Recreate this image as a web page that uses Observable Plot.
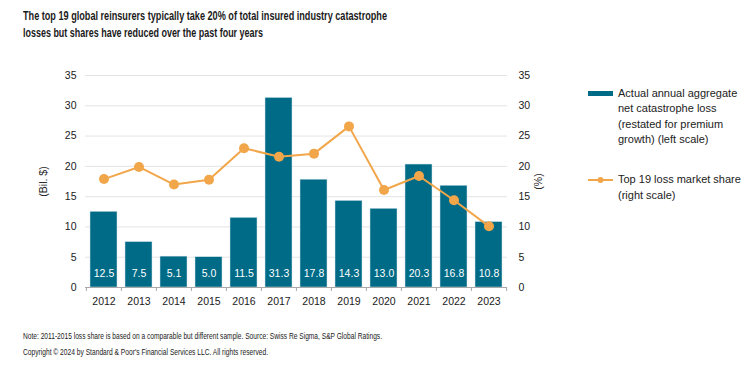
<!DOCTYPE html>
<html><head><meta charset="utf-8">
<script src="https://cdn.jsdelivr.net/npm/d3@7"></script>
<script src="https://cdn.jsdelivr.net/npm/@observablehq/plot@0.6"></script>
<style>
body{margin:0;background:#fff;font-family:"Liberation Sans",Arial,sans-serif;color:#1a1a1a}
#wrap{position:relative;width:754px;height:370px;overflow:hidden}
.abs{position:absolute;white-space:nowrap}
.fit{display:inline-block;transform-origin:0 50%}
#title{left:23px;top:7px;font-family:"Liberation Sans Narrow","Liberation Sans",sans-serif;font-weight:bold;font-size:13px;line-height:17px}
#foot{left:23px;top:328px;font-family:"Liberation Sans Narrow","Liberation Sans",sans-serif;font-size:9px;line-height:16px}
#chart{left:0;top:60px}
.leg{font-size:11px;line-height:15.5px;color:#222}
</style></head>
<body><div id="wrap">
<div id="title" class="abs"><span class="fit" data-w="364">The top 19 global reinsurers typically take 20% of total insured industry catastrophe</span><br><span class="fit" data-w="240">losses but shares have reduced over the past four years</span></div>
<div id="chart" class="abs"></div>
<div class="abs" style="left:588px;top:91px;width:25px;height:5px;background:#006b87"></div>
<div class="abs leg" style="left:618px;top:85.6px">Actual annual aggregate<br>net catastrophe loss<br>(restated for premium<br>growth) (left scale)</div>
<svg class="abs" style="left:586px;top:175px" width="30" height="10"><line x1="2" y1="5" x2="27" y2="5" stroke="#f2a64a" stroke-width="2"/><circle cx="14.5" cy="5" r="3" fill="#f2a64a"/></svg>
<div class="abs leg" style="left:618px;top:172px">Top 19 loss market share<br>(right scale)</div>
<div id="foot" class="abs"><span class="fit" data-w="359">Note: 2011-2015 loss share is based on a comparable but different sample. Source: Swiss Re Sigma, S&amp;P Global Ratings.</span><br><span class="fit" data-w="245">Copyright © 2024 by Standard &amp; Poor's Financial Services LLC. All rights reserved.</span></div>
</div>
<script>
const years = ["2012","2013","2014","2015","2016","2017","2018","2019","2020","2021","2022","2023"];
const losses = [12.5, 7.5, 5.1, 5.0, 11.5, 31.3, 17.8, 14.3, 13.0, 20.3, 16.8, 10.8];
const shares = [17.9, 19.9, 17.0, 17.8, 23.0, 21.6, 22.1, 26.6, 16.1, 18.4, 14.4, 10.1];
const yTicks = [0, 5, 10, 15, 20, 25, 30, 35];

const data = years.map((year, i) => ({year, loss: losses[i], share: shares[i]}));

const W = 754, H = 250, ML = 85, MR = 247, MT = 15, MB = 23;
const step = (W - ML - MR) / years.length;
const barColor = "#006b87", lineColor = "#f2a64a";

const chart = Plot.plot({
  width: W, height: H,
  marginLeft: ML, marginRight: MR, marginTop: MT, marginBottom: MB,
  style: {fontFamily: "'Liberation Sans', Arial, sans-serif", fontSize: "10.5px", color: "#1a1a1a"},
  x: {type: "band", domain: years, paddingInner: 0.24, paddingOuter: 0.12},
  y: {domain: [0, 35]},
  marks: [
    Plot.ruleY(yTicks.filter(t => t > 0), {stroke: "#e4e4e4", strokeWidth: 1}),
    Plot.barY(data, {x: "year", y: "loss", fill: barColor, stroke: "#d3e4ea", strokeWidth: 0.5}),
    Plot.ruleY([0], {stroke: "#a8a8a8"}),
    Plot.ruleX(years, {x: d => d, y1: 0, y2: 0, insetBottom: -4, dx: -step / 2, stroke: "#a8a8a8"}),
    Plot.ruleX(years.slice(-1), {x: d => d, y1: 0, y2: 0, insetBottom: -4, dx: step / 2, stroke: "#a8a8a8"}),
    Plot.line(data, {x: "year", y: "share", stroke: lineColor, strokeWidth: 2}),
    Plot.dot(data, {x: "year", y: "share", r: 5, fill: lineColor}),
    Plot.text(data, {x: "year", y: 0, text: d => d.loss.toFixed(1), dy: -14, fill: "white", fontSize: 10.5}),
    Plot.axisY({anchor: "left", ticks: yTicks, tickSize: 0, tickPadding: 9, label: "(Bil. $)", labelAnchor: "center", labelOffset: 46, labelArrow: "none", fontSize: 10.5}),
    Plot.axisY({anchor: "right", ticks: yTicks, tickSize: 0, tickPadding: 11, label: "(%)", labelAnchor: "center", labelOffset: 34, labelArrow: "none", fontSize: 10.5}),
    Plot.axisX({tickSize: 0, tickPadding: 10, label: null, fontSize: 10.5})
  ]
});
document.getElementById("chart").appendChild(chart);

document.querySelectorAll(".fit").forEach(el => {
  const w = el.getBoundingClientRect().width;
  const target = +el.dataset.w;
  el.style.transform = `scaleX(${target / w})`;
});
</script>
</body></html>
